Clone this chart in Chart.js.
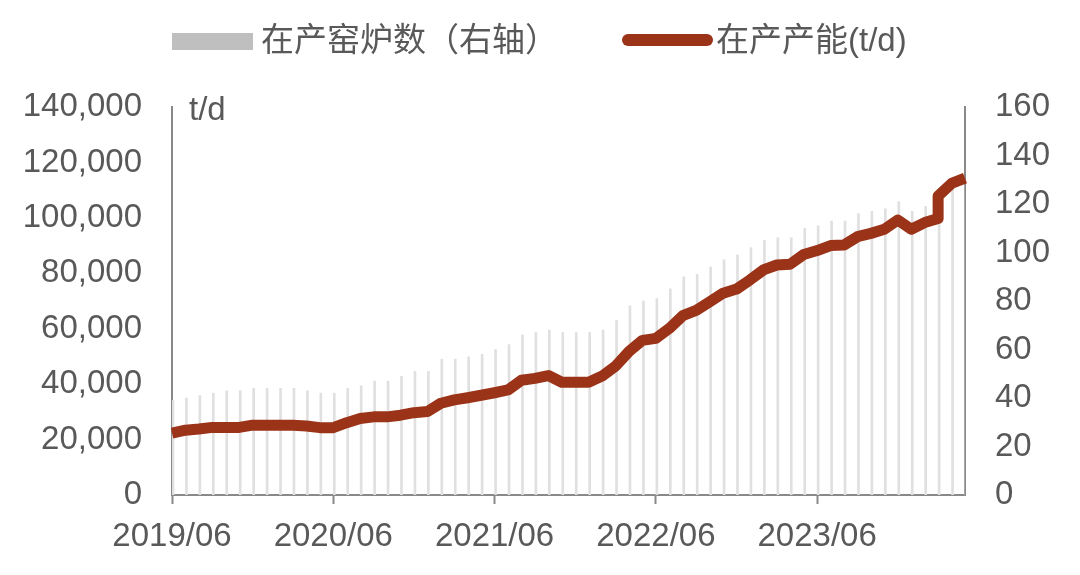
<!DOCTYPE html>
<html>
<head>
<meta charset="utf-8">
<script src="https://cdn.jsdelivr.net/npm/chart.js@4"></script>
<style>
  html, body { margin: 0; padding: 0; background: #ffffff; }
  #wrap { position: relative; width: 1080px; height: 575px; overflow: hidden; }
  #c { position: absolute; left: 0; top: 0; }
  .txt { position: absolute; font-family: "Liberation Sans", "Noto Sans CJK SC", sans-serif; color: #595959; font-size: 33px; line-height: 33px; white-space: nowrap; }
  .box { position: absolute; }
</style>
</head>
<body>
<div id="wrap">
  <canvas id="c" width="1080" height="575"></canvas>
  <div class="box" style="left:172px; top:33px; width:81px; height:17px; background:#bfbfbf;"></div>
  <div class="txt" id="lg1" style="left:261px; top:23px;">在产窑炉数（右轴）</div>
  <div class="box" style="left:622px; top:34px; width:91px; height:12px; border-radius:6px; background:#9b3319;"></div>
  <div class="txt" id="lg2" style="left:716px; top:23px;">在产产能(t/d)</div>
  <div class="txt" style="left:189px; top:92px;">t/d</div>
</div>
<script>
// Monthly categories (x axis)
const months = [
  '2019/06','2019/07','2019/08','2019/09','2019/10','2019/11','2019/12',
  '2020/01','2020/02','2020/03','2020/04','2020/05','2020/06','2020/07','2020/08','2020/09','2020/10','2020/11','2020/12',
  '2021/01','2021/02','2021/03','2021/04','2021/05','2021/06','2021/07','2021/08','2021/09','2021/10','2021/11','2021/12',
  '2022/01','2022/02','2022/03','2022/04','2022/05','2022/06','2022/07','2022/08','2022/09','2022/10','2022/11','2022/12',
  '2023/01','2023/02','2023/03','2023/04','2023/05','2023/06','2023/07','2023/08','2023/09','2023/10','2023/11','2023/12',
  '2024/01','2024/02','2024/03','2024/04','2024/05'
];

// 在产窑炉数（右轴）
const kilns = [
  39,40,41,42,43,43,44,
  44,44,44,43,42,42,44,45,47,47,49,51,
  51,56,56,57,58,60,62,66,67,68,67,67,
  67,68,72,78,80,81,85,90,91,94,97,99,
  102,105,106,106,110,111,113,113,116,117,118,121,
  117,119,121,126,128
];

// 在产产能(t/d) — month of each observation (2024/03 has two readings)
const capMonths = [
  '2019/06','2019/07','2019/08','2019/09','2019/10','2019/11','2019/12',
  '2020/01','2020/02','2020/03','2020/04','2020/05','2020/06','2020/07','2020/08','2020/09','2020/10','2020/11','2020/12',
  '2021/01','2021/02','2021/03','2021/04','2021/05','2021/06','2021/07','2021/08','2021/09','2021/10','2021/11','2021/12',
  '2022/01','2022/02','2022/03','2022/04','2022/05','2022/06','2022/07','2022/08','2022/09','2022/10','2022/11','2022/12',
  '2023/01','2023/02','2023/03','2023/04','2023/05','2023/06','2023/07','2023/08','2023/09','2023/10','2023/11','2023/12',
  '2024/01','2024/02','2024/03','2024/03','2024/04','2024/05'
];
const capacity = [
  22300,23400,23800,24400,24400,24400,25200,
  25200,25200,25200,24900,24300,24300,26100,27600,28200,28200,28800,29700,
  30100,33100,34300,35100,36000,36900,37900,41400,42100,43100,40700,40700,
  40700,42900,46500,51800,55800,56500,60100,64700,66600,69700,72800,74300,
  77600,81200,83000,83300,86800,88200,90000,90200,93200,94400,95900,99200,
  95900,98300,99800,107900,112400,114300
];

// Axis tick definitions
const leftMax = 140000, leftStep = 20000;
const rightMax = 160, rightStep = 20;
const labelEvery = 12;

const linePoints = capMonths.map((m, i) => ({ x: months.indexOf(m), y: capacity[i] }));

const FONT = { family: '"Liberation Sans", "Noto Sans CJK SC", sans-serif', size: 33 };
const TXT = '#595959';
const AXIS = '#898989';

new Chart(document.getElementById('c'), {
  data: {
    labels: months,
    datasets: [
      {
        type: 'line', label: '在产产能(t/d)', data: linePoints,
        xAxisID: 'xl', yAxisID: 'y',
        borderColor: '#9b3319', borderWidth: 11, borderJoinStyle: 'round', borderCapStyle: 'butt',
        pointRadius: 0, tension: 0, order: 0, clip: false
      },
      {
        type: 'bar', label: '在产窑炉数（右轴）', data: kilns,
        xAxisID: 'x', yAxisID: 'y1',
        backgroundColor: '#e0e0e0', barThickness: 2, order: 1
      }
    ]
  },
  options: {
    responsive: false, animation: false, devicePixelRatio: 1,
    layout: { padding: { top: 107, left: 0, right: 0, bottom: 0 } },
    plugins: { legend: { display: false }, tooltip: { enabled: false } },
    scales: {
      x: {
        type: 'category', offset: false, position: 'bottom',
        border: { display: true, color: AXIS, width: 2 },
        grid: {
          display: true, offset: false, drawOnChartArea: false, drawTicks: true, tickLength: 9, tickWidth: 2,
          tickColor: (c) => (c.index % labelEvery === 0 ? AXIS : 'rgba(0,0,0,0)')
        },
        ticks: {
          autoSkip: false, maxRotation: 0, minRotation: 0, padding: 13,
          color: TXT, font: FONT,
          callback: (v, i) => (i % labelEvery === 0 ? months[i] : '')
        },
        afterFit: (s) => { s.height = 80; }
      },
      xl: { type: 'linear', min: 0, max: months.length - 1, display: false },
      y: {
        position: 'left', min: 0, max: leftMax,
        border: { display: true, color: AXIS, width: 2 },
        grid: { display: false, drawTicks: false },
        ticks: {
          stepSize: leftStep, padding: 30, color: TXT, font: FONT,
          callback: (v) => v.toLocaleString('en-US')
        },
        afterFit: (s) => { s.width = 172; }
      },
      y1: {
        position: 'right', min: 0, max: rightMax,
        border: { display: true, color: AXIS, width: 2 },
        grid: { display: false, drawTicks: false },
        ticks: { stepSize: rightStep, padding: 30, color: TXT, font: FONT },
        afterFit: (s) => { s.width = 115; }
      }
    }
  }
});
</script>
</body>
</html>
